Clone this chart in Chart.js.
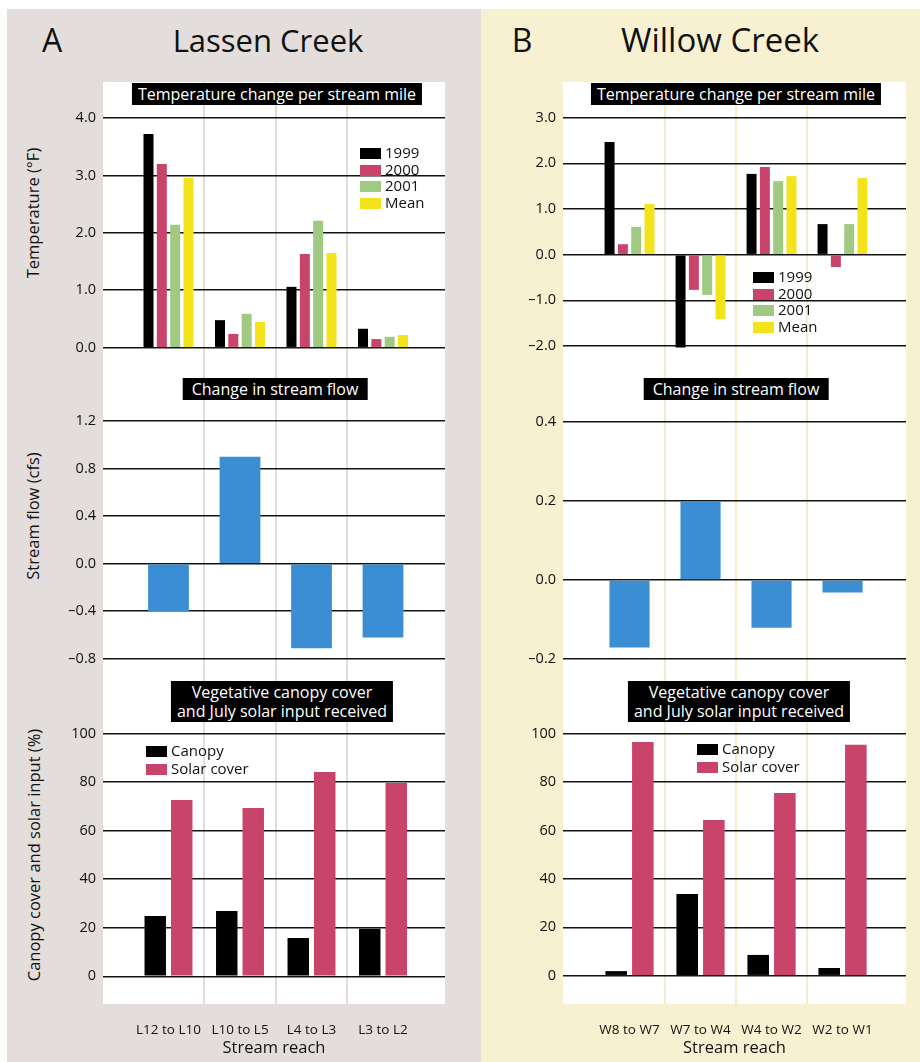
<!DOCTYPE html>
<html>
<head>
<meta charset="utf-8">
<script src="https://cdn.jsdelivr.net/npm/chart.js@4.4.1/dist/chart.umd.min.js"></script>
<style>
    body { margin: 0; background: #fff; font-family: "Open Sans", sans-serif; color: #111; }
    #page { position: relative; width: 920px; height: 1062px; overflow: hidden; }
    .abs { position: absolute; }
    canvas { position: absolute; }
    .head { position: absolute; font-size: 32px; line-height: 40px; white-space: nowrap; transform: translateX(-50%); }
    .box { position: absolute; background: #000; color: #fff; font-size: 16px; line-height: 19px; text-align: center; white-space: nowrap; transform: translateX(-50%); padding: 2px 6px 1px 6px; }
    .ytitle { position: absolute; font-size: 16.5px; white-space: nowrap; transform: translate(-50%, -50%) rotate(-90deg); }
    .leg { position: absolute; font-size: 15px; line-height: 17px; white-space: nowrap; }
    .leg span { display: inline-block; width: 21px; height: 11px; margin-right: 4px; vertical-align: -1px; }
</style>
</head>
<body>
<div id="page">
    <div class="abs" style="left:7px;top:9px;width:474px;height:1053px;background:#e3dedb"></div>
    <div class="abs" style="left:481px;top:9px;width:439px;height:1053px;background:#f7f0d1"></div>
    <div class="abs" style="left:103px;top:82px;width:342px;height:922px;background:#fff"></div>
    <div class="abs" style="left:563px;top:82px;width:343px;height:922px;background:#fff"></div>

    <div class="head" style="left:52px;top:20px">A</div>
    <div class="head" style="left:268px;top:20px;font-size:31px">Lassen Creek</div>
    <div class="head" style="left:522px;top:20px">B</div>
    <div class="head" style="left:720px;top:20px;font-size:33px">Willow Creek</div>

    <div class="ytitle" style="left:32px;top:213px">Temperature (°F)</div>
    <div class="ytitle" style="left:32px;top:516px">Stream flow (cfs)</div>
    <div class="ytitle" style="left:33px;top:855px">Canopy cover and solar input (%)</div>
</div>
<script>
// reaches (categories)
const reachesA = ['L12 to L10', 'L10 to L5', 'L4 to L3', 'L3 to L2'];
const reachesB = ['W8 to W7', 'W7 to W4', 'W4 to W2', 'W2 to W1'];
const years = ['1999', '2000', '2001', 'Mean'];
const yearColors = ['#000000', '#c8446a', '#a0c981', '#f2e31b'];

// temperature change per stream mile (F)
const tempA1999 = [3.72, 0.48, 1.06, 0.33];
const tempA2000 = [3.20, 0.24, 1.63, 0.15];
const tempA2001 = [2.14, 0.59, 2.21, 0.19];
const tempAMean = [2.96, 0.45, 1.65, 0.22];
const tempB1999 = [2.47, -2.03, 1.77, 0.67];
const tempB2000 = [0.23, -0.77, 1.92, -0.27];
const tempB2001 = [0.61, -0.88, 1.61, 0.67];
const tempBMean = [1.11, -1.41, 1.72, 1.68];

// change in stream flow (cfs)
const flowA = [-0.40, 0.90, -0.71, -0.62];
const flowB = [-0.171, 0.20, -0.121, -0.032];

// canopy cover and solar input (%)
const coverNames = ['Canopy', 'Solar cover'];
const coverColors = ['#000000', '#c8446a'];
const canopyA = [24.9, 26.9, 15.8, 19.6];
const solarA = [72.7, 69.4, 84.2, 79.7];
const canopyB = [1.9, 33.8, 8.6, 3.2];
const solarB = [96.7, 64.4, 75.6, 95.5];

// tick labels
const tempTicksA = [0, 1, 2, 3, 4];
const tempTicksB = [-2, -1, 0, 1, 2, 3];
const flowTicksA = [-0.8, -0.4, 0, 0.4, 0.8, 1.2];
const flowTicksB = [-0.2, 0, 0.2, 0.4];
const coverTicks = [0, 20, 40, 60, 80, 100];
const separators = [0.5, 1.5, 2.5];

Chart.defaults.font.family = '"Open Sans", sans-serif';
Chart.defaults.color = '#111';

function points(values) {
    return values.map((v, i) => ({x: i, y: v}));
}

function makechart(opt) {
    let canvas = document.createElement('canvas');
    canvas.width = opt.w;
    canvas.height = opt.h;
    canvas.style.left = opt.x + 'px';
    canvas.style.top = opt.y + 'px';
    canvas.style.width = opt.w + 'px';
    canvas.style.height = opt.h + 'px';
    document.querySelector('#page').appendChild(canvas);
    let ctx = canvas.getContext('2d');

    let datasets = opt.series.map((s, k) => ({
        label: opt.names[k],
        data: points(s),
        backgroundColor: opt.colors[k],
        borderWidth: 0,
        categoryPercentage: opt.cat,
        barPercentage: opt.bar
    }));

    return new Chart(ctx, {
        type: 'bar',
        data: { datasets: datasets },
        options: {
            responsive: false,
            animation: false,
            layout: { padding: 0 },
            plugins: { legend: { display: false }, tooltip: { enabled: false } },
            scales: {
                x: {
                    type: 'linear',
                    min: opt.xmin, max: opt.xmax,
                    offset: false,
                    display: opt.bottom,
                    grid: { display: false, offset: false },
                    border: { display: false },
                    afterBuildTicks: s => { s.ticks = opt.reaches.map((r, i) => ({value: i})); },
                    ticks: { padding: 10, font: { size: 13.5 }, color: '#111', maxRotation: 0, autoSkip: false, callback: v => opt.reaches[v] },
                    title: { display: true, text: 'Stream reach', font: { size: 16.5 }, color: '#111', padding: { top: 0, bottom: 4 } },
                    afterFit: s => { s.height = opt.bottom ? 58 : 0; s.paddingLeft = 0; s.paddingRight = 0; }
                },
                sep: {
                    type: 'linear',
                    position: 'bottom',
                    min: opt.xmin, max: opt.xmax,
                    offset: false,
                    ticks: { display: false },
                    grid: { color: opt.sepColor, lineWidth: 2, drawTicks: false, offset: false },
                    border: { display: false },
                    afterBuildTicks: s => { s.ticks = separators.map(v => ({value: v})); },
                    afterFit: s => { s.height = 0; s.paddingLeft = 0; s.paddingRight = 0; }
                },
                y: {
                    type: 'linear',
                    min: opt.ymin, max: opt.ymax,
                    afterBuildTicks: s => { s.ticks = opt.ticks.map(v => ({value: v})); },
                    ticks: {
                        padding: 7,
                        font: { size: 14.5 },
                        color: '#111',
                        callback: v => Number(v).toFixed(opt.digits).replace('-', '\u2013')
                    },
                    grid: { color: '#141414', lineWidth: 1.6, drawTicks: false },
                    border: { display: false },
                    afterFit: s => { s.width = opt.axisW; s.paddingTop = 0; s.paddingBottom = 0; }
                }
            }
        }
    });
}

function makebox(text, cx, top, pad) {
    let d = document.createElement('div');
    d.className = 'box';
    d.innerHTML = text;
    d.style.left = cx + 'px';
    d.style.top = top + 'px';
    d.style.paddingLeft = pad + 'px';
    d.style.paddingRight = pad + 'px';
    document.querySelector('#page').appendChild(d);
}

function makelegend(x, y, names, colors, step) {
    let d = document.createElement('div');
    d.className = 'leg';
    d.style.left = x + 'px';
    d.style.top = y + 'px';
    d.style.lineHeight = step + 'px';
    d.innerHTML = names.map((n, i) => '<div><span style="background:' + colors[i] + '"></span>' + n + '</div>').join('');
    document.querySelector('#page').appendChild(d);
}

// Lassen Creek
const colA = { x: 40, w: 405, axisW: 63, xmin: -0.916, xmax: 3.867, sepColor: '#e3ddd9', reaches: reachesA };
const colB = { x: 500, w: 406, axisW: 63, xmin: -0.937, xmax: 3.894, sepColor: '#f5edca', reaches: reachesB };

makechart(Object.assign({}, colA, {
    y: 82, h: 288, bottom: false, ymin: -0.388, ymax: 4.627, ticks: tempTicksA, digits: 1,
    series: [tempA1999, tempA2000, tempA2001, tempAMean], names: years, colors: yearColors, cat: 0.746, bar: 0.75
}));
makechart(Object.assign({}, colA, {
    y: 370, h: 310, bottom: false, ymin: -0.978, ymax: 1.629, ticks: flowTicksA, digits: 1,
    series: [flowA], names: ['Stream flow'], colors: ['#3b8ed3'], cat: 1, bar: 0.57
}));
makechart(Object.assign({}, colA, {
    y: 680, h: 382, bottom: true, ymin: -11.4, ymax: 122.1, ticks: coverTicks, digits: 0,
    series: [canopyA, solarA], names: coverNames, colors: coverColors, cat: 0.741, bar: 0.81
}));

// Willow Creek
makechart(Object.assign({}, colB, {
    y: 82, h: 288, bottom: false, ymin: -2.525, ymax: 3.782, ticks: tempTicksB, digits: 1,
    series: [tempB1999, tempB2000, tempB2001, tempBMean], names: years, colors: yearColors, cat: 0.75, bar: 0.75
}));
makechart(Object.assign({}, colB, {
    y: 370, h: 310, bottom: false, ymin: -0.2535, ymax: 0.532, ticks: flowTicksB, digits: 1,
    series: [flowB], names: ['Stream flow'], colors: ['#3b8ed3'], cat: 1, bar: 0.565
}));
makechart(Object.assign({}, colB, {
    y: 680, h: 382, bottom: true, ymin: -11.7, ymax: 122.3, ticks: coverTicks, digits: 0,
    series: [canopyB, solarB], names: coverNames, colors: coverColors, cat: 0.75, bar: 0.81
}));

// panel titles
makebox('Temperature change per stream mile', 277, 83, 6);
makebox('Change in stream flow', 275, 378, 9);
makebox('Vegetative canopy cover<br>and July solar input received', 282, 681, 6);
makebox('Temperature change per stream mile', 736, 83, 6);
makebox('Change in stream flow', 736, 378, 9);
makebox('Vegetative canopy cover<br>and July solar input received', 739, 681, 6);

// legends
makelegend(360, 144, years, yearColors, 16.7);
makelegend(753, 268, years, yearColors, 16.7);
makelegend(146, 742, coverNames, coverColors, 17.5);
makelegend(697, 740, coverNames, coverColors, 17.5);
</script>
</body>
</html>
